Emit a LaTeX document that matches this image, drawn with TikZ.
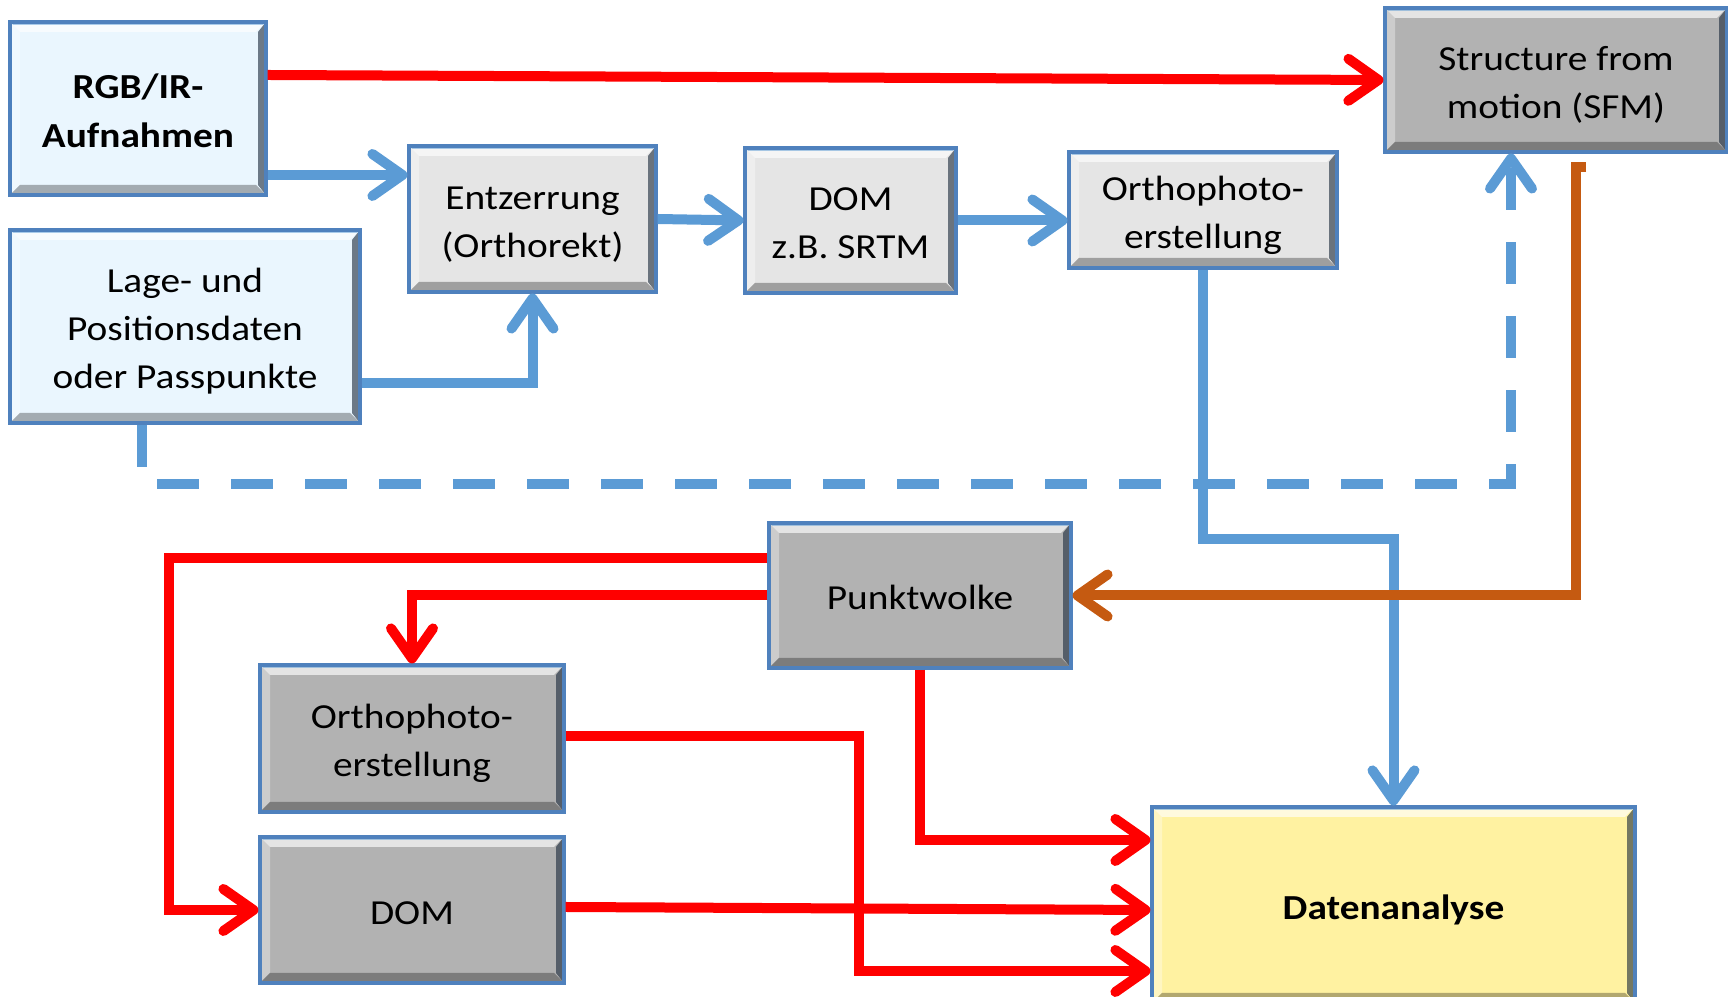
\documentclass[tikz,border=0pt]{standalone}
\usepackage{fontspec}
\setmainfont{Carlito}[FakeStretch=1.12]
\usetikzlibrary{arrows.meta,calc}
\definecolor{cred}{HTML}{FF0000}
\definecolor{cblue}{HTML}{5B9BD5}
\definecolor{corange}{HTML}{C55A11}
\definecolor{lblue}{HTML}{EAF6FE}
\definecolor{lgray}{HTML}{E5E5E5}
\definecolor{mgray}{HTML}{B2B2B2}
\definecolor{lyellow}{HTML}{FFF2A1}
\definecolor{bord}{HTML}{4F81BD}
\newcommand{\boxtext}[1]{\raisebox{-0.45mm}[\height][\depth]{\begin{tabular}{@{}c@{}}#1\end{tabular}}}
\tikzset{
  box/.style={draw=bord, line width=0.9pt, rectangle, align=center, inner sep=0pt,
    font=\fontsize{10}{13.7}\selectfont,
    path picture={
      \coordinate (pw) at (path picture bounding box.north west);
      \coordinate (pe) at (path picture bounding box.south east);
      \fill[white,opacity=0.65] (pw) -- (pw -| pe) -- ($(pw -| pe)+(-0.1,-0.1)$) -- ($(pw)+(0.1,-0.1)$) -- cycle;
      \fill[cblue,opacity=0.5] (pw) -- (pw -| pe) -- ($(pw -| pe)+(-0.03,-0.03)$) -- ($(pw)+(0.03,-0.03)$) -- cycle;
      \fill[white,opacity=0.35] (pw) -- (pw |- pe) -- ($(pw |- pe)+(0.1,0.1)$) -- ($(pw)+(0.1,-0.1)$) -- cycle;
      \fill[black,opacity=0.3] (pw |- pe) -- (pe) -- ($(pe)+(-0.1,0.1)$) -- ($(pw |- pe)+(0.1,0.1)$) -- cycle;
      \fill[black!70!bord,opacity=0.6] (pe) -- (pe |- pw) -- ($(pe |- pw)+(-0.08,-0.1)$) -- ($(pe)+(-0.08,0.1)$) -- cycle;
    }},
  conn/.style={line width=0.1cm, -{Straight Barb[length=0.3cm,width=0.42cm,round]}},
  rline/.style={conn, draw=cred},
  bline/.style={conn, draw=cblue},
  oline/.style={conn, draw=corange},
  dashline/.style={dash pattern=on 0.42cm off 0.32cm},
}
\begin{document}
\begin{tikzpicture}
\useasboundingbox (0,0) rectangle (17.28,-9.97);
% nodes
\node[box, fill=lblue, minimum width=2.56cm, minimum height=1.73cm, font=\fontsize{10}{13.9}\selectfont\bfseries] (rgb) at (1.38,-1.085) {\boxtext{RGB/IR-\\Aufnahmen}};
\node[box, fill=lgray, minimum width=2.47cm, minimum height=1.46cm] (entz) at (5.325,-2.19) {\boxtext{Entzerrung\\(Orthorekt)}};
\node[box, fill=lgray, minimum width=2.11cm, minimum height=1.45cm] (dom) at (8.505,-2.205) {\boxtext{DOM\\z.B. SRTM}};
\node[box, fill=lgray, minimum width=2.68cm, minimum height=1.16cm] (ortho) at (12.03,-2.10) {\boxtext{Orthophoto-\\erstellung}};
\node[box, fill=mgray, minimum width=3.42cm, minimum height=1.44cm] (sfm) at (15.56,-0.80) {\boxtext{Structure from\\motion (SFM)}};
\node[box, fill=lblue, minimum width=3.50cm, minimum height=1.93cm] (lage) at (1.85,-3.265) {\boxtext{Lage- und\\Positionsdaten\\oder Passpunkte}};
\node[box, fill=mgray, minimum width=3.02cm, minimum height=1.45cm] (punkt) at (9.20,-5.955) {\boxtext{Punktwolke}};
\node[box, fill=mgray, minimum width=3.04cm, minimum height=1.47cm] (ortho2) at (4.12,-7.385) {\boxtext{Orthophoto-\\erstellung}};
\node[box, fill=mgray, minimum width=3.04cm, minimum height=1.46cm] (dom2) at (4.12,-9.10) {\boxtext{DOM}};
\node[box, fill=lyellow, minimum width=4.83cm, minimum height=1.96cm, font=\fontsize{10}{13.7}\selectfont\bfseries] (daten) at (13.935,-9.05) {\boxtext{Datenanalyse}};
% connectors
\draw[bline, dashline] ([xshift=-0.43cm]lage.south) -- ++(0,-0.59) -| ([xshift=-0.45cm]sfm.south);
\draw[rline] ([yshift=0.335cm]rgb.east) -- (sfm.west);
\draw[bline] ([yshift=-0.665cm]rgb.east) -- ([yshift=-0.665cm]rgb.east -| entz.west);
\draw[bline] (entz.east) -- (dom.west);
\draw[bline] (dom.east) -- (dom.east -| ortho.west);
\draw[bline] ([yshift=-0.565cm]lage.east) -| (entz.south);
\draw[bline] (ortho.south) -- ++(0,-2.69) -| (daten.north);
\draw[oline] ([xshift=0.30cm,yshift=-0.13cm]sfm.south) -- ++(-0.10,0) |- (punkt.east);
\draw[rline] ([yshift=0.375cm]punkt.west) -- ++(-5.98,0) |- (dom2.west);
\draw[rline] (punkt.west) -| (ortho2.north);
\draw[rline] (punkt.south) |- ([yshift=0.65cm]daten.west);
\draw[rline] ([yshift=0.02cm]ortho2.east) -- ++(2.93,0) |- ([yshift=-0.66cm]daten.west);
\draw[rline] ([yshift=0.03cm]dom2.east) -- ([yshift=-0.05cm]daten.west);
\end{tikzpicture}
\end{document}
